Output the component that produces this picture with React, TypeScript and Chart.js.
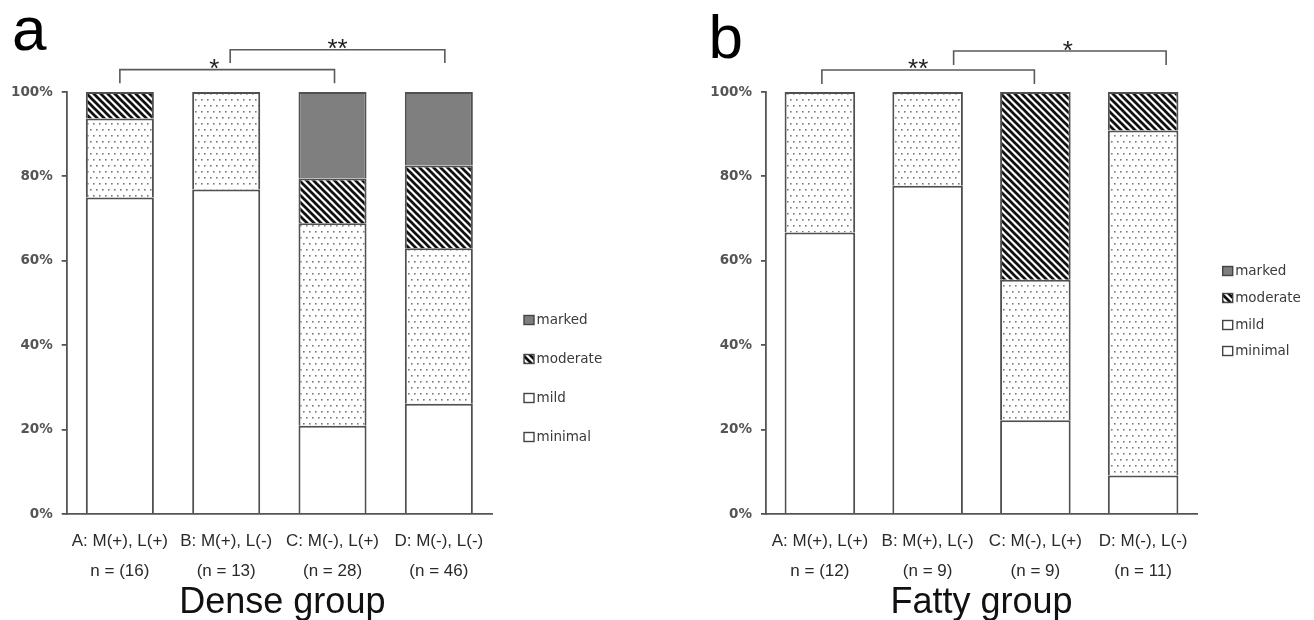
import React, { useEffect, useRef } from 'react';
import { Chart, registerables } from 'chart.js';

Chart.register(...registerables);

// ---------- data ----------
const severityLabels = ['minimal', 'mild', 'moderate', 'marked'];
const yTickValues = [0, 20, 40, 60, 80, 100];

const denseCategories = [
  ['A: M(+), L(+)', 'n = (16)'],
  ['B: M(+), L(-)', '(n = 13)'],
  ['C: M(-), L(+)', '(n = 28)'],
  ['D: M(-), L(-)', '(n = 46)'],
];
const denseMinimal = [75, 76.9, 20.9, 26.1];
const denseMild = [18.75, 23.1, 48.0, 36.9];
const denseModerate = [6.25, 0, 10.6, 19.6];
const denseMarked = [0, 0, 20.5, 17.4];

const fattyCategories = [
  ['A: M(+), L(+)', 'n = (12)'],
  ['B: M(+), L(-)', '(n = 9)'],
  ['C: M(-), L(+)', '(n = 9)'],
  ['D: M(-), L(-)', '(n = 11)'],
];
const fattyMinimal = [66.7, 77.8, 22.2, 9.1];
const fattyMild = [33.3, 22.2, 33.3, 81.8];
const fattyModerate = [0, 0, 44.5, 9.1];
const fattyMarked = [0, 0, 0, 0];

const denseBrackets = [
  { from: 0, to: 2, label: '*', level: 105.3, drop: 102.1, labelAt: 107.1, fromShift: 0, toShift: 2, labelShift: -13 },
  { from: 1, to: 3, label: '**', level: 110.0, drop: 106.9, labelAt: 111.8, fromShift: 4, toShift: 6, labelShift: 0 },
];
const fattyBrackets = [
  { from: 0, to: 2, label: '**', level: 105.2, drop: 101.9, labelAt: 107.1, fromShift: 2, toShift: -1, labelShift: -10 },
  { from: 1, to: 3, label: '*', level: 109.7, drop: 106.4, labelAt: 111.4, fromShift: 26, toShift: 23, labelShift: 8 },
];

// ---------- styling helpers ----------
const AXIS = '#555555';
const SANS = '"Liberation Sans", Arial, sans-serif';
const DEJAVU = '"DejaVu Sans", sans-serif';

function makeDots(): CanvasPattern | string {
  const c = document.createElement('canvas');
  c.width = 12; c.height = 12;
  const g = c.getContext('2d');
  if (!g) return '#fff';
  g.fillStyle = '#ffffff'; g.fillRect(0, 0, 12, 12);
  g.fillStyle = '#7a7a7a';
  [[3, 3], [9, 3], [0, 9], [6, 9]].forEach(([x, y]) => g.fillRect(x, y, 1.6, 1.6));
  return g.createPattern(c, 'repeat') || '#fff';
}

function makeStripes(): CanvasPattern | string {
  const p = 7;
  const c = document.createElement('canvas');
  c.width = p; c.height = p;
  const g = c.getContext('2d');
  if (!g) return '#000';
  g.fillStyle = '#ffffff'; g.fillRect(0, 0, p, p);
  g.strokeStyle = '#111111';
  g.lineWidth = 2.7;
  for (let k = -1; k <= 1; k++) {
    g.beginPath();
    g.moveTo(k * p - 1, -1);
    g.lineTo(k * p + p + 1, p + 1);
    g.stroke();
  }
  return g.createPattern(c, 'repeat') || '#000';
}

// ---------- plugin ----------
const decorPlugin = {
  id: 'decor',
  afterDraw(chart: any, _args: any, opts: any) {
    const { ctx, chartArea, scales } = chart;
    const xs = scales.x;
    const ys = scales.y;
    ctx.save();

    // significance brackets
    ctx.strokeStyle = '#5a5a5a';
    ctx.lineWidth = 1.6;
    for (const b of opts.brackets) {
      const x1 = xs.getPixelForValue(b.from) + b.fromShift;
      const x2 = xs.getPixelForValue(b.to) + b.toShift;
      const yl = ys.getPixelForValue(b.level);
      const yd = ys.getPixelForValue(b.drop);
      ctx.beginPath();
      ctx.moveTo(x1, yd);
      ctx.lineTo(x1, yl);
      ctx.lineTo(x2, yl);
      ctx.lineTo(x2, yd);
      ctx.stroke();
      ctx.fillStyle = '#222222';
      ctx.font = `26px ${SANS}`;
      ctx.textAlign = 'center';
      ctx.textBaseline = 'alphabetic';
      ctx.fillText(b.label, (x1 + x2) / 2 + b.labelShift, ys.getPixelForValue(b.labelAt) + 15);
    }

    // legend (top = last dataset)
    const ds = chart.data.datasets;
    const bx = chartArea.right + opts.legendGap;
    ctx.font = `13.5px ${DEJAVU}`;
    ctx.textAlign = 'left';
    ctx.textBaseline = 'middle';
    for (let i = 0; i < ds.length; i++) {
      const d = ds[ds.length - 1 - i];
      const cy = opts.legendRows[i];
      ctx.fillStyle = d.legendFill;
      ctx.fillRect(bx, cy - 4.5, 10, 9);
      ctx.strokeStyle = '#444';
      ctx.lineWidth = 1.4;
      ctx.strokeRect(bx, cy - 4.5, 10, 9);
      ctx.fillStyle = '#3a3a3a';
      ctx.fillText(d.label, bx + 12.5, cy);
    }

    // panel letter
    ctx.fillStyle = '#000';
    ctx.font = `62px ${SANS}`;
    ctx.textAlign = 'left';
    ctx.textBaseline = 'alphabetic';
    ctx.fillText(opts.letter, opts.letterX, opts.letterY);

    // group title
    ctx.font = `36px ${SANS}`;
    ctx.textAlign = 'center';
    ctx.fillStyle = '#111';
    ctx.fillText(opts.title, (chartArea.left + chartArea.right) / 2 + opts.titleShift, 613);

    ctx.restore();
  },
};

type PanelCfg = {
  left: number;
  width: number;
  padLeft: number;
  padRight: number;
  barPct: number;
  categories: string[][];
  series: number[][];
  brackets: any[];
  legendGap: number;
  legendRows: number[];
  letter: string;
  letterX: number;
  letterY: number;
  title: string;
  titleShift: number;
};

function Panel({ cfg }: { cfg: PanelCfg }) {
  const ref = useRef<HTMLCanvasElement>(null);
  useEffect(() => {
    if (!ref.current) return;
    const dots = makeDots();
    const stripes = makeStripes();
    const fills = ['#ffffff', dots, stripes, '#7f7f7f'];
    const legendFills = ['#ffffff', '#ffffff', stripes, '#7f7f7f'];
    const datasets = cfg.series.map((vals, i) => ({
      label: severityLabels[i],
      data: vals.map((v) => (v === 0 ? null : v)),
      backgroundColor: fills[i],
      legendFill: legendFills[i],
      borderColor: '#505050',
      borderWidth: 2,
      borderSkipped: 'start',
      barPercentage: cfg.barPct,
      categoryPercentage: 1,
    }));
    const chart = new Chart(ref.current, {
      type: 'bar',
      data: { labels: cfg.categories, datasets: datasets as any },
      plugins: [decorPlugin as any],
      options: {
        responsive: false,
        animation: false,
        events: [],
        layout: { padding: { left: cfg.padLeft, right: cfg.padRight, top: 92, bottom: 0 } },
        plugins: {
          legend: { display: false },
          tooltip: { enabled: false },
          decor: {
            brackets: cfg.brackets,
            legendGap: cfg.legendGap,
            legendRows: cfg.legendRows,
            letter: cfg.letter,
            letterX: cfg.letterX,
            letterY: cfg.letterY,
            title: cfg.title,
            titleShift: cfg.titleShift,
          },
        } as any,
        scales: {
          x: {
            stacked: true,
            grid: { display: false },
            border: { display: true, color: AXIS, width: 1.8 },
            ticks: {
              color: '#2a2a2a',
              padding: 4.5,
              maxRotation: 0,
              autoSkip: false,
              font: { family: SANS, size: 17, lineHeight: 30 / 17 },
            },
            afterFit: (s: any) => {
              s.height = 106;
              s.paddingLeft = 0;
              s.paddingRight = 0;
            },
          },
          y: {
            stacked: true,
            min: 0,
            max: 100,
            afterBuildTicks: (s: any) => {
              s.ticks = yTickValues.map((v) => ({ value: v }));
            },
            grid: {
              display: true,
              drawOnChartArea: false,
              drawTicks: true,
              tickLength: 5,
              color: AXIS,
              lineWidth: 1.8,
            },
            border: { display: true, color: AXIS, width: 1.8 },
            ticks: {
              color: '#555555',
              padding: 9,
              font: { family: DEJAVU, size: 13.5, weight: 'bold' },
              callback: (v: any) => `${v}%`,
            },
            afterFit: (s: any) => {
              s.width = 66.7;
              s.paddingTop = 0;
              s.paddingBottom = 0;
            },
          },
        },
      } as any,
    });
    return () => chart.destroy();
  }, []);
  return (
    <canvas
      ref={ref}
      width={cfg.width}
      height={620}
      style={{ position: 'absolute', left: cfg.left, top: 0, width: cfg.width, height: 620 }}
    />
  );
}

const denseCfg: PanelCfg = {
  left: 0,
  width: 655,
  padLeft: 0,
  padRight: 163,
  barPct: 0.64,
  categories: denseCategories,
  series: [denseMinimal, denseMild, denseModerate, denseMarked],
  brackets: denseBrackets,
  legendGap: 32,
  legendRows: [320, 359, 398, 437],
  letter: 'a',
  letterX: 12,
  letterY: 50,
  title: 'Dense group',
  titleShift: 3,
};

const fattyCfg: PanelCfg = {
  left: 655,
  width: 659,
  padLeft: 44.3,
  padRight: 117,
  barPct: 0.655,
  categories: fattyCategories,
  series: [fattyMinimal, fattyMild, fattyModerate, fattyMarked],
  brackets: fattyBrackets,
  legendGap: 25.7,
  legendRows: [271, 298, 325, 351],
  letter: 'b',
  letterX: 53.5,
  letterY: 58,
  title: 'Fatty group',
  titleShift: 0,
};

export default function App() {
  return (
    <div style={{ position: 'fixed', left: 0, top: 0, width: 1314, height: 620, background: '#ffffff', overflow: 'hidden' }}>
      <Panel cfg={denseCfg} />
      <Panel cfg={fattyCfg} />
    </div>
  );
}
